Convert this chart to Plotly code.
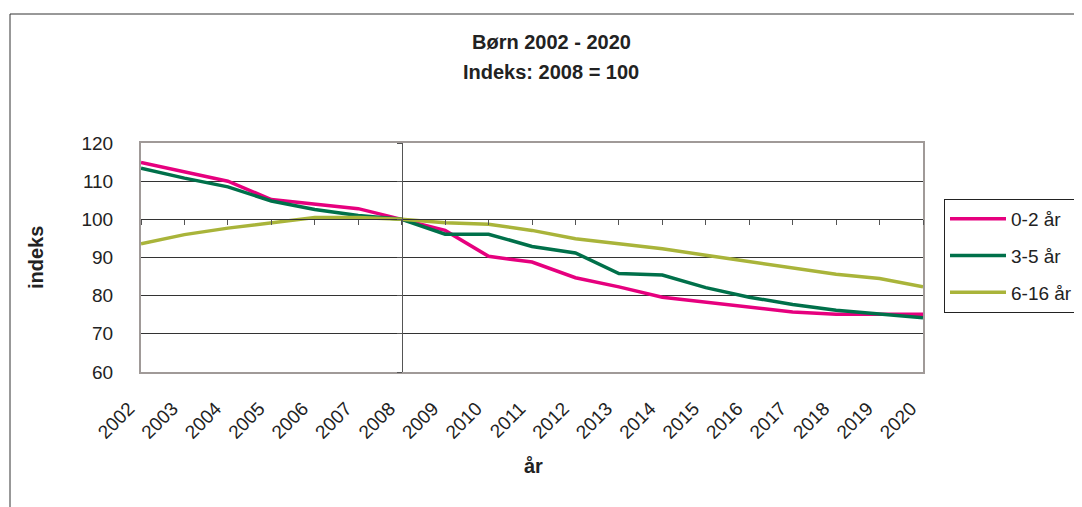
import plotly.graph_objects as go

years = list(range(2002, 2021))
age_0_2 = [114.9, 112.4, 110.0, 105.2, 103.9, 102.8, 100.0, 97.1, 90.3, 88.8, 84.7, 82.3, 79.6, 78.3, 76.9, 75.7, 75.1, 75.1, 75.1]
age_3_5 = [113.4, 110.8, 108.5, 104.8, 102.6, 101.0, 100.0, 96.1, 96.1, 92.9, 91.2, 85.8, 85.4, 82.1, 79.6, 77.7, 76.2, 75.1, 74.2]
age_6_16 = [93.6, 96.0, 97.7, 99.0, 100.5, 100.5, 100.0, 99.1, 98.7, 97.1, 94.9, 93.6, 92.3, 90.6, 89.0, 87.3, 85.6, 84.5, 82.3]
series_names = ["0-2 år", "3-5 år", "6-16 år"]
series_colors = ["#e6007e", "#00704a", "#a9b43a"]
y_ticks = [60, 70, 80, 90, 100, 110, 120]
base_year = 2008
base_value = 100

OFF = 8  # page body margin
W, H = 1074, 499
L, T = 133, 135
R = W - 915
B = H - 364
pw = W - L - R
ph = H - T - B


def px(x):
    return (x - OFF - L) / pw


def py(y):
    return (H - B - (y - OFF)) / ph


fig = go.Figure()
for name, vals, col in zip(series_names, [age_0_2, age_3_5, age_6_16], series_colors):
    fig.add_trace(go.Scatter(x=years, y=vals, mode="lines", name=name,
                             legendgroup=name,
                             line=dict(color=col, width=3.5)))

# invisible trace so the crossing axes (at 2008 and at 100) are drawn
fig.add_trace(go.Scatter(x=[base_year], y=[base_value], xaxis="x2", yaxis="y2",
                         mode="markers", marker=dict(opacity=0),
                         showlegend=False, hoverinfo="skip"))

font = "Liberation Sans, Arial, sans-serif"
xr = [years[0], years[-1]]
yr = [y_ticks[0], y_ticks[-1]]

fig.update_layout(
    width=W, height=H,
    margin=dict(l=L, r=R, t=T, b=B, pad=0, autoexpand=False),
    paper_bgcolor="white", plot_bgcolor="white",
    font=dict(family=font, size=19, color="#222"),
    showlegend=True,
    legend=dict(x=px(944), y=py(199), xanchor="left", yanchor="top",
                bordercolor="#222", borderwidth=1, bgcolor="white",
                font=dict(size=19, color="#222"), tracegroupgap=9,
                itemwidth=56),
    xaxis=dict(range=xr, tickvals=years, ticktext=[str(y) for y in years],
               tickangle=-45, showgrid=False, zeroline=False,
               showline=True, mirror=True, linecolor="#a09a98", linewidth=2,
               ticks="", ticklabelstandoff=16, ticklabelshift=-12,
               tickfont=dict(size=19, color="#222")),
    yaxis=dict(range=yr, tickvals=y_ticks, showgrid=True, gridcolor="#333",
               gridwidth=1, zeroline=False, showline=True, mirror=True,
               linecolor="#a09a98", linewidth=2, ticks="",
               ticklabelstandoff=22, tickfont=dict(size=19, color="#222")),
    xaxis2=dict(range=xr, overlaying="x", anchor="free",
                position=(base_value - yr[0]) / (yr[1] - yr[0]),
                tickvals=years, showticklabels=False, ticks="outside",
                ticklen=5, tickcolor="#555", tickwidth=1, showline=True,
                linecolor="#333", linewidth=1, showgrid=False, zeroline=False),
    yaxis2=dict(range=yr, overlaying="y", anchor="free",
                position=(base_year - xr[0]) / (xr[1] - xr[0]),
                tickvals=y_ticks, showticklabels=False, ticks="outside",
                ticklen=5, tickcolor="#555", tickwidth=1, showline=True,
                linecolor="#555", linewidth=1, showgrid=False, zeroline=False),
)

# outer chart frame
fig.add_shape(type="rect", xref="paper", yref="paper",
              x0=px(10), x1=px(1200), y0=py(700), y1=py(14),
              line=dict(color="#333", width=1), layer="below")

ann = dict(xref="paper", yref="paper", showarrow=False,
           xanchor="center", yanchor="middle")
fig.add_annotation(text="<b>Børn 2002 - 2020</b>", x=px(551), y=py(42),
                   font=dict(size=20, color="#222"), **ann)
fig.add_annotation(text="<b>Indeks: 2008 = 100</b>", x=px(551), y=py(72),
                   font=dict(size=20, color="#222"), **ann)
fig.add_annotation(text="<b>indeks</b>", x=px(36), y=py(258), textangle=-90,
                   font=dict(size=20, color="#222"), **ann)
fig.add_annotation(text="<b>år</b>", x=px(533), y=py(466),
                   font=dict(size=20, color="#222"), **ann)

fig.write_html("out.html")
